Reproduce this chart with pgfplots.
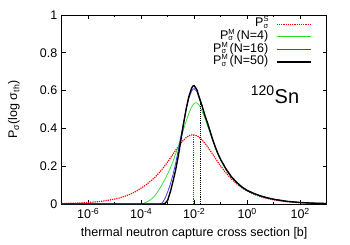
\documentclass[border=0pt]{standalone}
\usepackage{fontspec}
\setmainfont{Liberation Sans}
\usepackage{pgfplots}
\pgfplotsset{compat=1.18}
\definecolor{gpred}{RGB}{255,0,0}
\definecolor{gpgreen}{RGB}{40,225,40}
\definecolor{gpblue}{RGB}{60,60,255}
\newcommand{\Psig}[1]{P\rlap{\raisebox{5bp}{\fontsize{7.5bp}{7.5bp}\selectfont #1}}\raisebox{-1.5bp}{\fontsize{7.5bp}{7.5bp}\selectfont σ}}
\begin{document}
\fontsize{12.5bp}{15bp}\selectfont
\begin{tikzpicture}
\begin{axis}[
  name=ax,
  scale only axis, width=265bp, height=189bp,
  xmin=-7, xmax=3, ymin=0, ymax=1,
  xtick={-6,-4,-2,0,2},
  xticklabels={10\textsuperscript{-6},10\textsuperscript{-4},10\textsuperscript{-2},10\textsuperscript{0},10\textsuperscript{2}},
  minor xtick={-5,-3,-1,1},
  ytick={0,0.2,0.4,0.6,0.8,1},
  yticklabels={0,0.2,0.4,0.6,0.8,1},
  /pgf/number format/assume math mode=true,
  tick align=inside,
  major tick length=4bp, minor tick length=2bp,
  axis line style={line width=0.9bp},
  every tick/.style={black, line width=0.7bp},
  xlabel={thermal neutron capture cross section [b]},
  ylabel={P\textsubscript{σ}(log σ\textsubscript{th})},
  x label style={at={(axis description cs:0.5,-0.155)}, anchor=center},
  y label style={at={(axis description cs:-0.18,0.5)}, anchor=center},
  legend plot pos=right,
  legend cell align=right,
  legend image code/.code={\draw[#1] (0bp,0bp) -- (34bp,0bp);},
  legend style={draw=none, fill=none, inner sep=0pt, outer sep=0pt,
    at={(rel axis cs:0.943,0.985)}, anchor=north east,
    column sep=8bp, row sep=0pt,
    nodes={inner sep=0pt, text height=9bp, text depth=3.6bp}},
]
% P^S (dotted red)
\addplot[gpred, line width=1.2bp, densely dotted, smooth] coordinates {
(-7,0.0025) (-6.5,0.0045) (-6,0.0080) (-5.5,0.0145) (-5,0.0260) (-4.75,0.0350)
(-4.5,0.0470) (-4.25,0.0630) (-4,0.0840) (-3.75,0.1090) (-3.5,0.1390) (-3.25,0.1770)
(-3,0.2230) (-2.75,0.2740) (-2.5,0.3223) (-2.25,0.3570) (-2.05,0.3665) (-1.85,0.3570)
(-1.6,0.3223) (-1.35,0.2730) (-1.1,0.2208) (-0.85,0.1733) (-0.6,0.1335) (-0.35,0.1015)
(-0.1,0.0768) (0.15,0.0579) (0.4,0.0435) (0.65,0.0327) (0.9,0.0245) (1.4,0.0138)
(1.9,0.0078) (2.4,0.0044) (3,0.0022)};
\addlegendentry{\Psig{S}}
% N=4 (green)
\addplot[gpgreen, line width=0.7bp] coordinates {
(-7,0) (-4.0,0) (-3.9,0.004) (-3.8,0.010) (-3.7,0.018) (-3.6,0.028) (-3.5,0.042)
(-3.4,0.060) (-3.3,0.082) (-3.2,0.105) (-3.1,0.132) (-3.0,0.160) (-2.9,0.190)
(-2.8,0.225) (-2.7,0.265) (-2.6,0.305) (-2.5,0.350) (-2.4,0.395) (-2.3,0.440)
(-2.2,0.480) (-2.1,0.513) (-2.0,0.533) (-1.95,0.536) (-1.9,0.534) (-1.8,0.520)
(-1.7,0.490) (-1.6,0.455) (-1.5,0.415) (-1.4,0.375) (-1.3,0.335) (-1.2,0.296)
(-1.1,0.262) (-1.0,0.232) (-0.8,0.183) (-0.6,0.143) (-0.4,0.113) (-0.2,0.089)
(0,0.071) (0.25,0.055) (0.5,0.042) (0.75,0.032) (1.0,0.0245) (1.5,0.0138)
(2.0,0.0077) (2.5,0.0043) (3.0,0.0024)};
\addlegendentry{\Psig{M} (N=4)}
% N=16 (blue)
\addplot[gpblue, line width=0.8bp] coordinates {
(-7,0) (-3.3,0) (-3.2,0.006) (-3.1,0.030) (-3.0,0.065) (-2.9,0.105) (-2.8,0.155)
(-2.7,0.215) (-2.6,0.285) (-2.5,0.360) (-2.4,0.435) (-2.3,0.505) (-2.2,0.560)
(-2.1,0.597) (-2.05,0.608) (-2.0,0.610) (-1.9,0.595) (-1.8,0.555) (-1.7,0.515)
(-1.6,0.468) (-1.5,0.428) (-1.4,0.383) (-1.3,0.339) (-1.2,0.299) (-1.1,0.264)
(-1.0,0.234) (-0.8,0.185) (-0.6,0.145) (-0.4,0.115) (-0.2,0.090) (0,0.072)
(0.25,0.056) (0.5,0.043) (0.75,0.033) (1.0,0.025) (1.5,0.014) (2.0,0.0078)
(2.5,0.0044) (3.0,0.0025)};
\addlegendentry{\Psig{M} (N=16)}
% N=50 (black)
\addplot[black, line width=1.4bp] coordinates {
(-7,0) (-3.2,0) (-3.1,0.003) (-3.0,0.020) (-2.9,0.065) (-2.8,0.120) (-2.7,0.180)
(-2.6,0.255) (-2.5,0.340) (-2.4,0.425) (-2.3,0.505) (-2.2,0.570) (-2.1,0.612)
(-2.05,0.624) (-2.0,0.626) (-1.9,0.605) (-1.8,0.560) (-1.7,0.518) (-1.6,0.470)
(-1.5,0.430) (-1.4,0.385) (-1.3,0.340) (-1.2,0.300) (-1.1,0.265) (-1.0,0.235)
(-0.8,0.185) (-0.6,0.145) (-0.4,0.115) (-0.2,0.090) (0,0.072) (0.25,0.056)
(0.5,0.043) (0.75,0.033) (1.0,0.025) (1.5,0.014) (2.0,0.0078) (2.5,0.0044)
(3.0,0.0025)};
\addlegendentry{\Psig{M} (N=50)}
% vertical markers
\addplot[gpred, line width=1.2bp, densely dotted, forget plot] coordinates {(-2.04,0) (-2.04,0.365)};
\addplot[black, line width=0.9bp, densely dotted, forget plot] coordinates {(-1.78,0) (-1.78,0.552)};
\node[font=\fontsize{20bp}{22bp}\selectfont] at (axis cs:1.05,0.577) {\textsuperscript{120}Sn};
\end{axis}
\path ([shift={(-61.7bp,-41bp)}]ax.south west) rectangle ([shift={(23.3bp,15bp)}]ax.north east);
\end{tikzpicture}
\end{document}
